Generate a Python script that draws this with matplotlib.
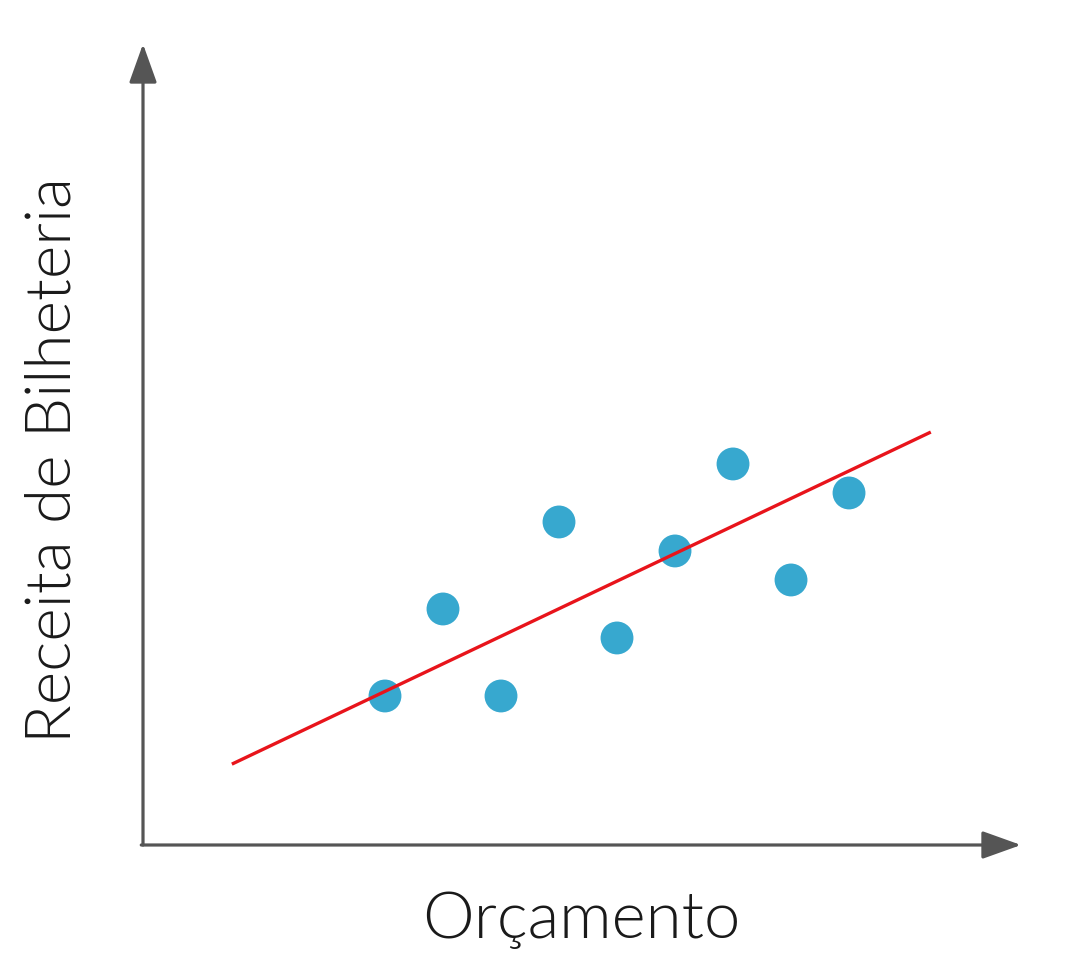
import matplotlib
matplotlib.use("Agg")
import matplotlib.pyplot as plt

# Data (conceptual units)
orcamento = [1, 2, 3, 4, 5, 6, 7, 8, 9]
receita = [1, 4, 1, 7, 3, 6, 9, 5, 8]
linha_x = [-1.64, 10.41]
linha_y = [-1.35, 10.10]

x_label = "Orçamento"
y_label = "Receita de Bilheteria"

W, H = 1084, 976
fig = plt.figure(figsize=(W / 100, H / 100), dpi=100)
fig.patch.set_facecolor("white")

# axes placed so the axis corner is at px (143, 845) and arrow tips at the edges
left, right, bottom, top = 143, 1021, 845, 44
ax = fig.add_axes([left / W, 1 - bottom / H, (right - left) / W, (bottom - top) / H])
ax.set_xlim(-3.172, 11.965)
ax.set_ylim(-4.138, 23.48)
ax.axis("off")

axis_color = "#555555"
arrowprops = dict(arrowstyle="-|>,head_length=24,head_width=8.6",
                  mutation_scale=1, color=axis_color, lw=2.3,
                  shrinkA=0, shrinkB=0)
ax.annotate("", xy=(0, 1), xytext=(0, 0), xycoords="axes fraction",
            textcoords="axes fraction", arrowprops=arrowprops)
ax.annotate("", xy=(1, 0), xytext=(-0.002, 0), xycoords="axes fraction",
            textcoords="axes fraction", arrowprops=arrowprops)

ax.scatter(orcamento, receita, s=560, color="#37A8CF", edgecolors="none", zorder=3)
ax.plot(linha_x, linha_y, color="#E8141B", lw=2.4, zorder=4, solid_capstyle="butt")

font = dict(family=["Lato", "DejaVu Sans"], fontweight=300, color="#1a1a1a")
fig.text(581 / W, 1 - 920 / H, x_label, ha="center", va="center", fontsize=47, **font)
fig.text(53 / W, 1 - 460 / H, y_label, ha="center", va="center", rotation=90,
         fontsize=46, **font)

fig.savefig("out.png", dpi=100, facecolor="white")
